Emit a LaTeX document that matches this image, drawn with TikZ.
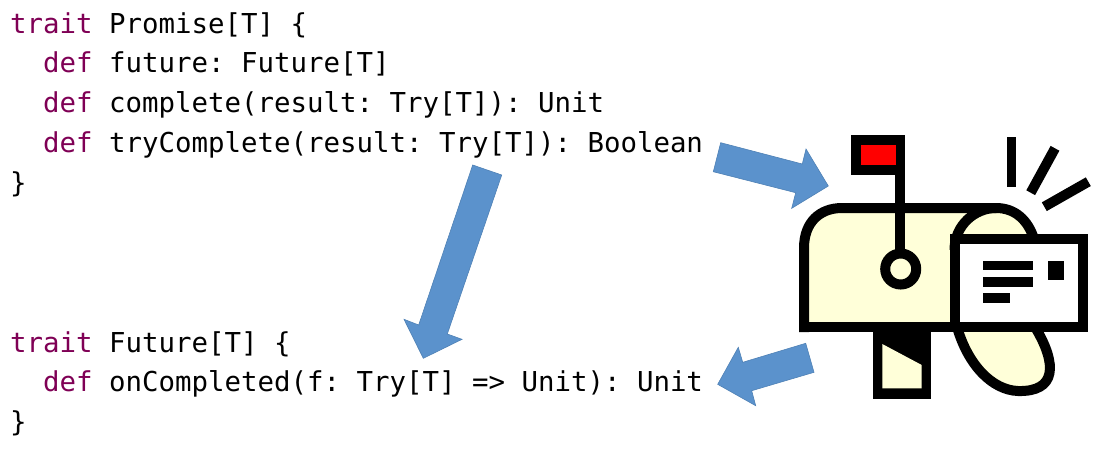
\documentclass[tikz,border=0pt]{standalone}
\usepackage{fontspec}
\setmonofont{DejaVu Sans Mono}
\definecolor{kw}{HTML}{7F0055}
\definecolor{arrowblue}{HTML}{5B92CC}
\definecolor{arrowedge}{HTML}{4F81B5}
\definecolor{boxfill}{HTML}{FFFFD9}
\newcommand{\kwd}[1]{\textcolor{kw}{#1}}
\tikzset{
  code/.style={anchor=base west,inner sep=0pt,font=\fontsize{27.4}{30}\selectfont\ttfamily},
  bigarrow/.style={fill=arrowblue,draw=arrowedge,line width=0.6pt},
  ink/.style={draw=black,line width=10pt,line join=miter},
  inkfill/.style={fill=black,draw=none}
}
\begin{document}
\begin{tikzpicture}[x=1pt,y=-1pt]
\useasboundingbox (0,0) rectangle (1110,451);
\node[code] (l1) at (10,33) {\kwd{trait} Promise[T] \{};
\node[code] (l2) at (10,72.5) {\ \ \kwd{def} future: Future[T]};
\node[code] (l3) at (10,112) {\ \ \kwd{def} complete(result: Try[T]): Unit};
\node[code] (l4) at (10,152) {\ \ \kwd{def} tryComplete(result: Try[T]): Boolean};
\node[code] (l5) at (10,192) {\}};
\node[code] (l6) at (10,352) {\kwd{trait} Future[T] \{};
\node[code] (l7) at (10,391.5) {\ \ \kwd{def} onCompleted(f: Try[T] => Unit): Unit};
\node[code] (l8) at (10,431) {\}};
% arrows
\draw[bigarrow] (720.7,142.7)--(802.3,164)--(806,149)--(828.3,186)--(791.7,208.3)--(795.7,192.7)--(713.3,171.7)--cycle;
\draw[bigarrow] (472.7,165)--(501.7,175)--(447.3,334)--(462,339.3)--(423.3,358.3)--(404,319.3)--(418.7,325)--cycle;
\draw[bigarrow] (805.7,343.3)--(814,372.3)--(751.7,390.7)--(755.7,405.7)--(717.7,384.3)--(738.3,347.3)--(742.7,362.3)--cycle;
% mailbox
\path[fill=boxfill] (804,327)--(804,248) .. controls (804,222) and (820,208) .. (842,208)
  --(996,208) .. controls (1015,208) and (1028,220) .. (1034,239)--(954,327)--cycle;
\path[fill=boxfill] (957,327) .. controls (968,365) and (992,390) .. (1018,391)
  .. controls (1056,392) and (1058,365) .. (1035,327)--cycle;
\draw[ink] (804,332)--(804,248) .. controls (804,222) and (820,208) .. (842,208)
  --(996,208) .. controls (1015,208) and (1028,220) .. (1034,239);
\draw[ink] (954.5,250) .. controls (954.5,225) and (975,208) .. (996,208);
\draw[ink] (957,327) .. controls (968,365) and (992,390) .. (1018,391)
  .. controls (1056,392) and (1058,365) .. (1035,327);
\draw[ink] (799,327)--(954.5,327);
\draw[ink,fill=white] (954.5,239) rectangle (1083,327);
% letter marks
\fill[inkfill] (983,260.7) rectangle (1033.3,270);
\fill[inkfill] (983,276.7) rectangle (1033.3,286.7);
\fill[inkfill] (983,292.7) rectangle (1010,303);
\fill[inkfill] (1047.7,261) rectangle (1064.3,280.3);
% post
\fill[inkfill] (872.7,330) rectangle (931,399.3);
\fill[boxfill] (882.3,344)--(921.7,365)--(921.7,388.3)--(882.3,388.3)--cycle;
% flag
\fill[inkfill] (851,135) rectangle (905,175);
\fill[red] (861,145) rectangle (896,165);
\fill[inkfill] (895,175) rectangle (905,255);
\draw[ink,fill=boxfill] (900.7,269) circle (15.5);
% rays
\fill[inkfill] (1006.7,137.3) rectangle (1016.3,187.3);
\draw[black,line width=10pt] (1055,148.3)--(1030.7,192.7);
\draw[black,line width=10pt] (1088.3,181.7)--(1044.3,206.7);
\end{tikzpicture}
\end{document}
